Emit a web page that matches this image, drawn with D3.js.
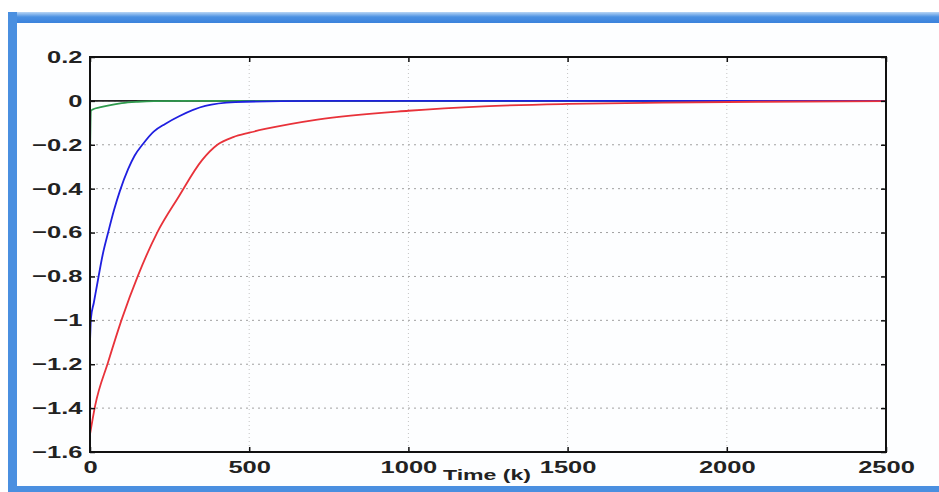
<!DOCTYPE html>
<html lang="en">
<head>
    <meta charset="UTF-8">
    <title>Time response</title>
    <script src="https://d3js.org/d3.v7.min.js"></script>
    <style>
        body{
            margin: 0;
            background: white;
            overflow: hidden;
        }
        #canvas{
            display: block;
        }
        .tick text, .axis_label{
            font-family: "Liberation Sans", Arial, sans-serif;
            font-weight: bold;
            fill: #222;
        }
        path.curve{
            fill: none;
            stroke-width: 1.8px;
        }
    </style>
</head>
<body>
<svg id="canvas" width="939" height="492"></svg>
<script>
    // values
    let xTicks = [0, 500, 1000, 1500, 2000, 2500]
    let yTicks = [0.2, 0, -0.2, -0.4, -0.6, -0.8, -1, -1.2, -1.4, -1.6]

    let blueK = [0, 3, 12, 22, 40, 57, 75, 94, 120, 140, 167, 200, 236, 280, 362, 456, 600, 800, 2500]
    let blueV = [-1.1, -0.99, -0.92, -0.84, -0.7, -0.6, -0.5, -0.41, -0.31, -0.25, -0.195, -0.14, -0.105, -0.07, -0.023, -0.006, -0.001, 0, 0]

    let redK = [0, 16, 57, 101, 151, 211, 277, 352, 400, 450, 500, 550, 714, 1000, 1236, 1500, 1800, 2100, 2500]
    let redV = [-1.52, -1.39, -1.19, -0.99, -0.795, -0.6, -0.44, -0.27, -0.2, -0.165, -0.145, -0.128, -0.085, -0.045, -0.025, -0.014, -0.008, -0.004, -0.001]

    let greenK = [0, 3, 10, 30, 60, 100, 150, 200, 300, 2500]
    let greenV = [-0.25, -0.045, -0.038, -0.03, -0.02, -0.01, -0.004, -0.001, 0, 0]

    let blackK = [0, 2500]
    let blackV = [0, 0]

    let svg = d3.select('svg')

    // window frame
    let defs = svg.append('defs')
    let grad = defs.append('linearGradient').attr('id', 'topbar').attr('x1', 0).attr('y1', 0).attr('x2', 0).attr('y2', 1)
    grad.append('stop').attr('offset', '0%').attr('stop-color', '#b9d6f5')
    grad.append('stop').attr('offset', '45%').attr('stop-color', '#4a90e2')
    grad.append('stop').attr('offset', '100%').attr('stop-color', '#3b82dc')
    svg.append('rect').attr('x', 8).attr('y', 12).attr('width', 931).attr('height', 11).attr('fill', 'url(#topbar)')
    svg.append('rect').attr('x', 8).attr('y', 12).attr('width', 9).attr('height', 480).attr('fill', '#4a8fe0')
    svg.append('rect').attr('x', 8).attr('y', 486).attr('width', 931).attr('height', 6).attr('fill', '#4a8fe0')
    svg.append('rect').attr('x', 17).attr('y', 23).attr('width', 922).attr('height', 463).attr('fill', '#fdfeff')

    let x = d3.scaleLinear().domain([0, 2500]).range([90, 886])
    let y = d3.scaleLinear().domain([-1.6, 0.2]).range([452, 57])

    let fmt = function (d){
        return d3.format('')(d).replace('-', '\u2212')
    }

    // grid
    let grid = svg.append('g')
    grid.selectAll('line.hgrid')
        .data(yTicks.slice(1, -1))
        .enter()
        .append('line')
        .attr('x1', x(0)).attr('x2', x(2500))
        .attr('y1', d => y(d)).attr('y2', d => y(d))
        .attr('stroke', '#a0a0a0')
        .attr('stroke-dasharray', '2,4')
    grid.selectAll('line.vgrid')
        .data(xTicks.slice(1, -1))
        .enter()
        .append('line')
        .attr('x1', d => x(d)).attr('x2', d => x(d))
        .attr('y1', y(0.2)).attr('y2', y(-1.6))
        .attr('stroke', '#c4c4c4')
        .attr('stroke-dasharray', '1,3')

    // curves
    let line = d3.line()
        .x(d => x(d[0]))
        .y(d => y(d[1]))
        .curve(d3.curveMonotoneX)

    let series = [
        {k: blackK, v: blackV, color: '#222222'},
        {k: greenK, v: greenV, color: '#2f9a4e'},
        {k: blueK, v: blueV, color: '#1f1fe0'},
        {k: redK, v: redV, color: '#e8323a'}
    ]
    svg.append('g').selectAll('path')
        .data(series)
        .enter()
        .append('path')
        .attr('class', 'curve')
        .attr('stroke', d => d.color)
        .attr('d', d => line(d.k.map((k, i) => [k, d.v[i]])))

    // axes
    let bottom = svg.append('g')
        .attr('transform', 'translate(0,' + y(-1.6) + ')')
        .call(d3.axisBottom(x).tickValues(xTicks).tickSize(-5).tickSizeOuter(0).tickPadding(9).tickFormat(fmt))
    bottom.selectAll('text').attr('font-size', '17px').attr('transform', 'scale(1.5,1)')

    let left = svg.append('g')
        .attr('transform', 'translate(' + x(0) + ',0)')
        .call(d3.axisLeft(y).tickValues(yTicks).tickSize(-5).tickSizeOuter(0).tickPadding(5).tickFormat(fmt))
    left.selectAll('text').attr('font-size', '17px').attr('transform', 'scale(1.5,1)')

    svg.append('g')
        .attr('transform', 'translate(0,' + y(0.2) + ')')
        .call(d3.axisTop(x).tickValues(xTicks).tickSize(-5).tickSizeOuter(0).tickFormat(''))
    svg.append('g')
        .attr('transform', 'translate(' + x(2500) + ',0)')
        .call(d3.axisRight(y).tickValues(yTicks).tickSize(-5).tickSizeOuter(0).tickFormat(''))

    svg.selectAll('.tick line').attr('stroke', '#111').attr('stroke-width', 1.5)
    svg.selectAll('.domain').remove()

    // box
    svg.append('rect')
        .attr('x', x(0)).attr('y', y(0.2))
        .attr('width', x(2500) - x(0)).attr('height', y(-1.6) - y(0.2))
        .attr('fill', 'none').attr('stroke', '#111').attr('stroke-width', 2)

    svg.append('text')
        .attr('class', 'axis_label')
        .attr('text-anchor', 'middle')
        .attr('font-size', '14px')
        .attr('transform', 'translate(487,480) scale(1.65,1)')
        .text('Time (k)')
</script>
</body>
</html>
